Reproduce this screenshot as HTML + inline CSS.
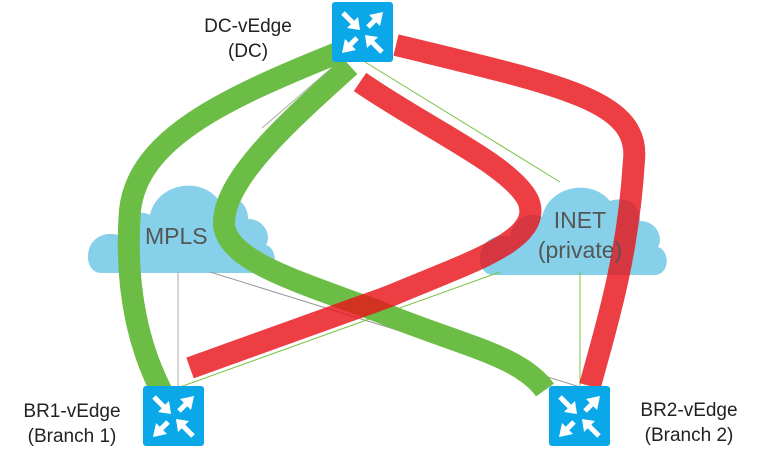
<!DOCTYPE html>
<html><head><style>
body{margin:0;background:#fff;width:762px;height:458px;overflow:hidden}
svg{display:block}
text{font-family:"Liberation Sans",sans-serif;fill:#222}
</style></head><body>
<svg width="762" height="458" viewBox="0 0 762 458">
<defs>
<g id="rt">
<rect x="0" y="0" width="61" height="60" rx="3" fill="#0aa8e8"/>
<g stroke="#fff" stroke-width="5" fill="#fff" stroke-linecap="butt">
<line x1="11" y1="11" x2="22" y2="22"/><polygon points="28,28 15,26 26,15" stroke="none"/>
<line x1="36" y1="25" x2="44" y2="17"/><polygon points="51,10 48,24 37,13" stroke="none"/>
<line x1="25" y1="36" x2="17" y2="44"/><polygon points="10,51 13,37 24,48" stroke="none"/>
<line x1="50" y1="50" x2="39" y2="39"/><polygon points="33,33 46,35 35,46" stroke="none"/>
</g>
</g>
<g id="cloud">
<path d="M0,82 C0,62 18,56 30,60 C34,40 50,34 62,40 C68,10 110,0 130,24 C150,18 160,30 160,44 C176,44 184,60 178,70 C190,74 190,96 176,98 L14,98 C4,98 0,90 0,82 Z" fill="#86d0ea"/>
</g>
</defs>
<use href="#cloud" transform="translate(88,175)"/>
<use href="#cloud" transform="translate(480,177)"/>
<g stroke-width="1" fill="none">
<line x1="334" y1="66" x2="262" y2="128" stroke="#aaa"/>
<line x1="178" y1="272" x2="178" y2="387" stroke="#aaa"/>
<line x1="210" y1="272" x2="580" y2="387" stroke="#999"/>
<line x1="365" y1="62" x2="560" y2="182" stroke="#7cc242"/>
<line x1="500" y1="272" x2="180" y2="387" stroke="#7cc242"/>
<line x1="580" y1="272" x2="580" y2="387" stroke="#7cc242"/>
</g>
<g fill="none" stroke-width="22">
<path d="M340,52 C220,100 138,140 130,210 C124,290 140,350 162,392" stroke="#6cbd45"/>
<path d="M350,66 C290,120 222,180 224,225 C228,262 300,282 380,312 C460,345 520,355 545,390" stroke="#6cbd45"/>
<path d="M396,45 C560,85 640,100 634,160 C628,260 605,330 590,386" stroke="#e8141a" stroke-opacity="0.82"/>
<path d="M360,82 C430,130 510,165 528,200 C545,240 470,262 390,296 L190,368" stroke="#e8141a" stroke-opacity="0.82"/>
</g>
<use href="#rt" transform="translate(332,2)"/>
<use href="#rt" transform="translate(143,386)"/>
<use href="#rt" transform="translate(549,386)"/>
<g font-size="19">
<text x="248" y="32" text-anchor="middle">DC-vEdge</text>
<text x="248" y="57" text-anchor="middle">(DC)</text>
<text x="72" y="417" text-anchor="middle">BR1-vEdge</text>
<text x="72" y="442" text-anchor="middle">(Branch 1)</text>
<text x="689" y="416" text-anchor="middle">BR2-vEdge</text>
<text x="689" y="441" text-anchor="middle">(Branch 2)</text>
</g>
<g font-size="23">
<text x="145" y="244" style="fill:#555">MPLS</text>
<text x="580" y="228" text-anchor="middle" style="fill:#555">INET</text>
<text x="580" y="258" text-anchor="middle" style="fill:#555">(private)</text>
</g>
</svg>
</body></html>
